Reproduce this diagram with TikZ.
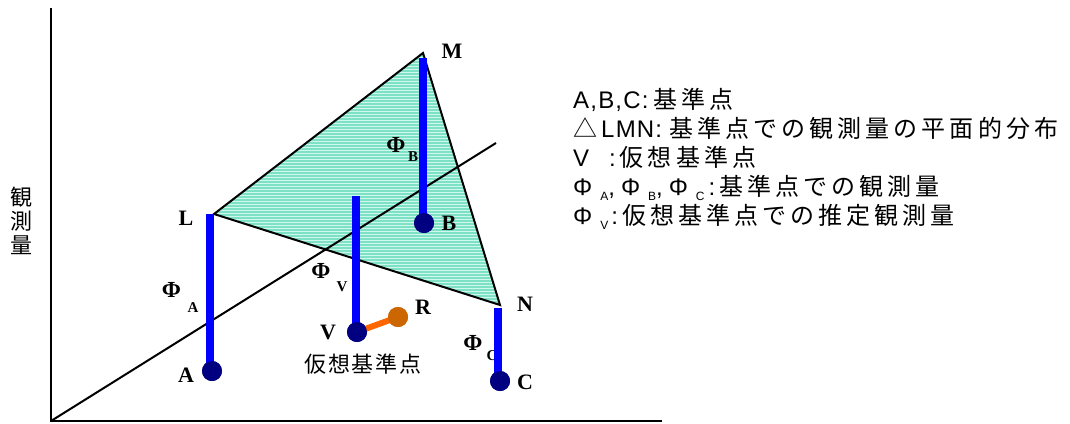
\documentclass[tikz,border=0pt]{standalone}
\usepackage{fontspec}
\setmainfont{Liberation Serif}
\newfontfamily\cjk{Noto Sans CJK JP}
\newfontfamily\cjksp[LetterSpace=17]{Noto Sans CJK JP}
\newfontfamily\cjkmid[LetterSpace=8]{Noto Sans CJK JP}
\newfontfamily\arial[LetterSpace=5]{Liberation Sans}
\definecolor{barblue}{RGB}{0,0,255}
\definecolor{dotnavy}{RGB}{0,0,128}
\definecolor{orangeline}{RGB}{255,102,0}
\definecolor{rdot}{RGB}{204,102,0}
\definecolor{aqualight}{RGB}{208,247,236}
\definecolor{aquadark}{RGB}{125,225,198}
\newcommand{\legphi}[1]{{\arial\fontsize{24}{29}\selectfont Φ\hspace{8pt}\raisebox{-5pt}{\fontsize{12}{12}\selectfont #1}}}
\tikzset{
  axis/.style={line width=2.5pt, black},
  edge/.style={line width=2pt, black},
  bar/.style={line width=8pt, barblue},
  dot/.style={circle, fill=dotnavy, minimum size=20pt, inner sep=0pt},
  rdotsty/.style={circle, fill=rdot, minimum size=20pt, inner sep=0pt},
  vlabel/.style={font=\fontsize{22}{22}\selectfont\bfseries, inner sep=0pt},
  philabel/.style={font=\fontsize{23}{23}\selectfont\bfseries, inner sep=0pt},
  subl/.style={font=\fontsize{15}{15}\selectfont\bfseries, inner sep=0pt},
  legend/.style={anchor=base west, inner sep=0pt, font=\fontsize{24}{29}\selectfont},
}
\begin{document}
\begin{tikzpicture}[x=1pt,y=-1pt]
\useasboundingbox (0,0) rectangle (1070,423);
% vertices
\coordinate (L) at (214,214);
\coordinate (M) at (423,53);
\coordinate (N) at (500,305);
\coordinate (O) at (51,421);
\coordinate (Ytop) at (51,8);
\coordinate (Xend) at (662,421);
\coordinate (Dend) at (496,143);
% triangle fill with horizontal lines
\fill[aqualight] (L) -- (M) -- (N) -- cycle;
\begin{scope}
\clip (L) -- (M) -- (N) -- cycle;
\foreach \yy in {50,53,...,311} \draw[aquadark, line width=1.2pt] (200,\yy) -- (520,\yy);
\end{scope}
\draw[edge, line join=miter] (L) -- (M) -- (N) -- cycle;
% axes
\draw[axis] (Ytop) -- (O) -- (Xend);
\draw[edge] (O) -- (Dend);
% phi labels
\node[philabel] (phA) at (171.5,290) {Φ};
\node[subl] (sA) at (193,307.5) {A};
\node[philabel] (phV) at (321,271) {Φ};
\node[subl] (sV) at (342,286.5) {V};
\node[philabel] (phB) at (396,145) {Φ};
\node[subl] (sB) at (413,157) {B};
\node[philabel] (phC) at (473,343) {Φ};
\node[subl] (sC) at (492,355.5) {C};
% points
\node[dot] (A) at (212,371) {};
\node[dot] (B) at (424,223) {};
\node[dot] (V) at (357,332) {};
\node[dot] (C) at (500,381) {};
\node[rdotsty] (R) at (398,317) {};
\coordinate (Atop) at (210,214);
\coordinate (Btop) at (423,58);
\coordinate (Vtop) at (356,196);
\coordinate (Ctop) at (498,308);
\draw[bar] (Atop) -- (Atop |- A.center);
\draw[bar] (Btop) -- (Btop |- B.center);
\draw[bar] (Vtop) -- (Vtop |- V.center);
\draw[bar] (Ctop) -- (Ctop |- C.center);
\draw[orangeline, line width=6pt] (V.center) -- (R.center);
\node[rdotsty] at (R) {};
\node[dot] at (A) {};
\node[dot] at (B) {};
\node[dot] at (V) {};
\node[dot] at (C) {};
% vertex labels
\node[vlabel] (lM) at (452,51) {M};
\node[vlabel] (lL) at (186,218) {L};
\node[vlabel] (lB) at (449,223) {B};
\node[vlabel] (lN) at (525,304) {N};
\node[vlabel] (lR) at (423,307) {R};
\node[vlabel] (lV) at (328,332) {V};
\node[vlabel] (lA) at (186,375) {A};
\node[vlabel] (lC) at (525,382) {C};
% text
\node[inner sep=0pt, font=\cjkmid\fontsize{22}{22}\selectfont] (kaso) at (363,364) {仮想基準点};
\node[inner sep=0pt, align=center, font=\cjk\fontsize{22}{24}\selectfont] (yaxis) at (21,221) {観\\測\\量};
% legend
\node[legend] (leg1) at (573,108) {\arial A,B,C:\hspace{5pt}\cjksp 基準点};
\node[legend] (leg2) at (573,137) {\cjk △\hspace{4pt}\arial LMN:\hspace{7pt}\cjksp 基準点での観測量の平面的分布};
\node[legend] (leg3) at (573,166) {\arial V\hspace{20pt}:\hspace{4pt}\cjksp 仮想基準点};
\node[legend] (leg4) at (573,195) {\legphi{A}\arial,\hspace{6pt}\legphi{B}\arial,\hspace{6pt}\legphi{C}\hspace{4pt}\arial:\hspace{4pt}\cjksp 基準点での観測量};
\node[legend] (leg5) at (573,224) {\legphi{V}\hspace{3pt}\arial:\hspace{4pt}\cjksp 仮想基準点での推定観測量};
\end{tikzpicture}
\end{document}
